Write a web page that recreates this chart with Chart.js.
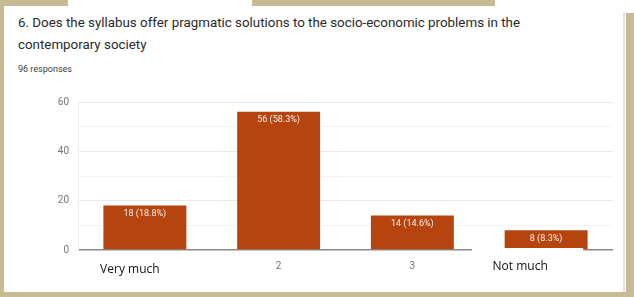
<!DOCTYPE html>
<html>
<head>
<meta charset="utf-8">
<script src="https://cdn.jsdelivr.net/npm/chart.js@4"></script>
<style>
  body { margin: 0; }
  #wrap { position: relative; width: 634px; height: 297px; background: #fff; overflow: hidden; }
  .tan { position: absolute; background: #c6bb95; }
  .q { position: absolute; left: 18px; font-family: Roboto, sans-serif; font-size: 13.35px; color: #2a2a2a; line-height: 22px; white-space: nowrap; }
  .sub { position: absolute; left: 18px; top: 64px; font-family: Roboto, sans-serif; font-size: 9px; color: #3c3c3c; }
  canvas { position: absolute; left: 0; top: 0; }
</style>
</head>
<body>
<div id="wrap">
  <div class="tan" style="left:0;top:0;width:4px;height:297px"></div>
  <div class="tan" style="left:0;top:0;width:68px;height:6px"></div>
  <div class="tan" style="left:252px;top:0;width:243px;height:6px"></div>
  <div class="tan" style="left:626px;top:13px;width:8px;height:284px"></div>
  <div class="tan" style="left:0;top:292px;width:634px;height:5px"></div>
  <div style="position:absolute;left:623px;top:13px;width:2px;height:279px;background:#e4e4e4"></div>
  <div class="q" style="top:12px">6. Does the syllabus offer pragmatic solutions to the socio-economic problems in the</div>
  <div class="q" style="top:34px">contemporary society</div>
  <div class="sub">96 responses</div>
  <canvas id="myChart" width="634" height="297"></canvas>
</div>
<script>
const categories = ['Very much', '2', '3', 'Not much'];
const counts = [18, 56, 14, 8];
const percents = ['18.8%', '58.3%', '14.6%', '8.3%'];
const yTicks = [0, 20, 40, 60];

// bar labels, the white patch and the two word labels under the axis
const extras = {
  id: 'extras',
  afterDatasetsDraw(chart) {
    const c = chart.ctx;
    const bars = chart.getDatasetMeta(0).data;
    c.save();
    c.font = '9px Roboto';
    c.fillStyle = 'rgba(255,255,255,0.92)';
    c.textAlign = 'center';
    c.textBaseline = 'middle';
    bars.forEach((b, i) => {
      c.fillText(counts[i] + ' (' + percents[i] + ')', b.x, b.y + 8);
    });
    const x = chart.scales.x;
    c.fillStyle = '#fff';
    c.fillRect(x.getPixelForValue(3) - 74, 248, 111, 44);
    c.font = '12px "Open Sans"';
    c.fillStyle = '#111';
    c.fillText(categories[0], x.getPixelForValue(0) - 15, 270);
    c.fillText(categories[3], x.getPixelForValue(3) - 26, 267);
    c.restore();
  }
};

new Chart(document.getElementById('myChart'), {
  type: 'bar',
  data: {
    labels: categories,
    datasets: [{
      data: counts,
      backgroundColor: '#b6440f',
      barPercentage: 0.62,
      categoryPercentage: 1
    }]
  },
  options: {
    responsive: false,
    animation: false,
    devicePixelRatio: 1,
    layout: { padding: { left: 0, right: 21, top: 102, bottom: 0 } },
    plugins: { legend: { display: false }, tooltip: { enabled: false } },
    scales: {
      x: {
        offset: true,
        grid: { display: false },
        border: { display: false },
        ticks: {
          padding: 2,
          color: '#757575',
          font: { family: 'Roboto', size: 10 },
          callback: (v, i) => (i === 0 || i === 3) ? '' : categories[i]
        },
        afterFit: s => { s.height = 47; }
      },
      y: {
        min: 0,
        max: 60,
        border: { color: '#eeeeee' },
        grid: {
          drawTicks: false,
          color: ctx => ctx.tick.value === 0 ? '#8a8a8a' : (ctx.tick.value % 20 === 0 ? '#e9e9e9' : '#f4f4f4'),
          lineWidth: ctx => ctx.tick.value === 0 ? 1.4 : 1
        },
        ticks: {
          stepSize: 10,
          padding: 9,
          color: '#757575',
          font: { family: 'Roboto', size: 10 },
          callback: v => yTicks.includes(v) ? v : ''
        },
        afterFit: s => { s.width = 78; }
      }
    }
  },
  plugins: [extras]
});
</script>
</body>
</html>
